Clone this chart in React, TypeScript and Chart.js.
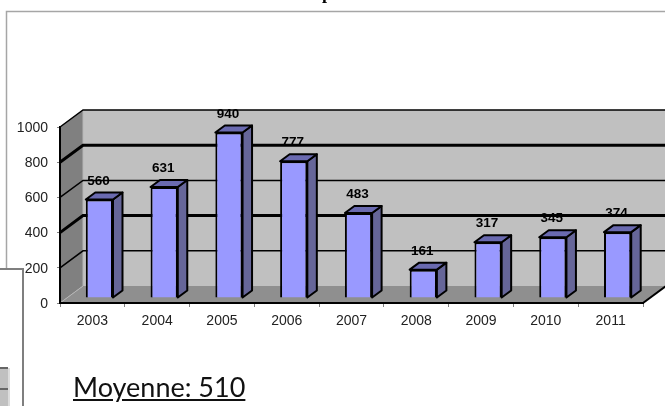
import React, { useEffect, useRef } from "react";
import { Chart, registerables } from "chart.js";

Chart.register(...registerables);

const years = ["2003", "2004", "2005", "2006", "2007", "2008", "2009", "2010", "2011"];
const counts = [560, 631, 940, 777, 483, 161, 317, 345, 374];
const gridValues = [200, 400, 600, 800, 1000];
const gridWidths = [1.5, 3, 1.5, 3, 1.5];

const WALL_DX = 23;
const WALL_DY = -17;
const BAR_DX = 7;
const BAR_DY = -5;
const SIDE_DX = 9.5;
const SIDE_DY = -7;

const scene = {
  id: "scene",
  beforeDraw(chart: any) {
    const { ctx, chartArea: a, scales } = chart;
    const W = chart.width;
    const y = scales.y;
    ctx.save();
    // outer frame
    ctx.strokeStyle = "#a6a6a6";
    ctx.lineWidth = 1.5;
    ctx.beginPath();
    ctx.moveTo(6.5, 270);
    ctx.lineTo(6.5, 11.5);
    ctx.lineTo(W, 11.5);
    ctx.stroke();
    // back wall
    const backTop = a.top + WALL_DY;
    const backBottom = a.bottom + WALL_DY;
    ctx.fillStyle = "#c0c0c0";
    ctx.fillRect(a.left + WALL_DX, backTop, W - a.left - WALL_DX, a.bottom - a.top);
    // left wall
    ctx.fillStyle = "#808080";
    ctx.beginPath();
    ctx.moveTo(a.left, a.top);
    ctx.lineTo(a.left + WALL_DX, backTop);
    ctx.lineTo(a.left + WALL_DX, backBottom);
    ctx.lineTo(a.left, a.bottom);
    ctx.closePath();
    ctx.fill();
    // floor
    ctx.fillStyle = "#8f8f8f";
    ctx.beginPath();
    ctx.moveTo(a.left, a.bottom);
    ctx.lineTo(a.left + WALL_DX, backBottom);
    ctx.lineTo(a.right + WALL_DX, backBottom);
    ctx.lineTo(a.right, a.bottom);
    ctx.closePath();
    ctx.fill();
    // wall edge between wall and floor
    ctx.strokeStyle = "#b5b5b5";
    ctx.lineWidth = 1;
    ctx.beginPath();
    ctx.moveTo(a.left, a.bottom);
    ctx.lineTo(a.left + WALL_DX, backBottom);
    ctx.lineTo(a.left + WALL_DX, backTop);
    ctx.stroke();
    // floor right edge
    ctx.strokeStyle = "#000";
    ctx.lineWidth = 2;
    ctx.beginPath();
    ctx.moveTo(a.right, a.bottom);
    ctx.lineTo(a.right + WALL_DX, backBottom);
    ctx.stroke();
    // grid lines, wrapping from the side wall to the back wall
    gridValues.forEach((v, i) => {
      const py = y.getPixelForValue(v);
      ctx.lineWidth = gridWidths[i];
      ctx.beginPath();
      ctx.moveTo(a.left, py);
      ctx.lineTo(a.left + WALL_DX, py + WALL_DY);
      ctx.lineTo(W, py + WALL_DY);
      ctx.stroke();
    });
    ctx.restore();
  },
  beforeDatasetDraw(chart: any) {
    const { ctx } = chart;
    ctx.save();
    ctx.translate(BAR_DX, BAR_DY);
    const bars = chart.getDatasetMeta(0).data;
    ctx.strokeStyle = "#000";
    ctx.lineWidth = 2;
    ctx.lineJoin = "round";
    bars.forEach((b: any) => {
      const l = b.x - b.width / 2;
      const r = b.x + b.width / 2;
      ctx.fillStyle = "#666699";
      ctx.beginPath();
      ctx.moveTo(r, b.base);
      ctx.lineTo(r + SIDE_DX, b.base + SIDE_DY);
      ctx.lineTo(r + SIDE_DX, b.y + SIDE_DY);
      ctx.lineTo(r, b.y);
      ctx.closePath();
      ctx.fill();
      ctx.stroke();
      ctx.fillStyle = "#6a6ab0";
      ctx.beginPath();
      ctx.moveTo(l, b.y);
      ctx.lineTo(l + SIDE_DX, b.y + SIDE_DY);
      ctx.lineTo(r + SIDE_DX, b.y + SIDE_DY);
      ctx.lineTo(r, b.y);
      ctx.closePath();
      ctx.fill();
      ctx.stroke();
    });
  },
  afterDatasetDraw(chart: any) {
    chart.ctx.restore();
  },
  afterDraw(chart: any) {
    const { ctx } = chart;
    const bars = chart.getDatasetMeta(0).data;
    ctx.save();
    // value labels
    ctx.fillStyle = "#000";
    ctx.font = "bold 13.5px 'Liberation Sans'";
    ctx.textAlign = "center";
    ctx.textBaseline = "middle";
    bars.forEach((b: any, i: number) => {
      ctx.fillText(String(counts[i]), b.x + BAR_DX - 1, b.y + BAR_DY - 18.5);
    });
    // overlapping panel, lower left
    ctx.fillStyle = "#fff";
    ctx.fillRect(0, 269, 23, chart.height - 269);
    ctx.strokeStyle = "#7f7f7f";
    ctx.lineWidth = 2;
    ctx.beginPath();
    ctx.moveTo(0, 269);
    ctx.lineTo(23, 269);
    ctx.lineTo(23, chart.height);
    ctx.stroke();
    // table fragment inside that panel
    ctx.fillStyle = "#c0c0c0";
    ctx.fillRect(0, 368, 8, chart.height - 368);
    ctx.fillStyle = "#dcdcdc";
    ctx.fillRect(8, 368, 2, chart.height - 368);
    ctx.fillStyle = "#666";
    ctx.fillRect(0, 367, 8, 2);
    ctx.fillRect(0, 388, 8, 2);
    // clipped heading
    ctx.fillStyle = "#000";
    ctx.font = "bold 18px 'Liberation Serif'";
    ctx.textAlign = "left";
    ctx.textBaseline = "alphabetic";
    ctx.fillText("p", 322, -1);
    ctx.restore();
  },
};

export default function App() {
  const ref = useRef<HTMLCanvasElement>(null);
  useEffect(() => {
    const tickFont = { family: "'Liberation Sans'", size: 14 };
    const chart = new Chart(ref.current as HTMLCanvasElement, {
      type: "bar",
      data: {
        labels: years,
        datasets: [
          {
            data: counts,
            backgroundColor: "#9999ff",
            borderColor: "#000",
            borderWidth: 2,
            barPercentage: 0.42,
            categoryPercentage: 1,
            clip: false,
          } as any,
        ],
      },
      options: {
        responsive: false,
        animation: false,
        layout: { padding: { left: 0, right: 22, top: 127, bottom: 63 } },
        plugins: { legend: { display: false }, title: { display: false }, tooltip: { enabled: false } },
        scales: {
          x: {
            afterFit: (s: any) => { s.height = 40; },
            grid: { drawOnChartArea: false, drawTicks: true, tickLength: 4, tickColor: "#808080" },
            border: { color: "#000", width: 2 },
            ticks: { font: tickFont, color: "#222", padding: 6, maxRotation: 0 },
          },
          y: {
            min: 0,
            max: 1000,
            afterFit: (s: any) => { s.width = 60; },
            grid: { drawOnChartArea: false, drawTicks: true, tickLength: 3, tickColor: "#808080" },
            border: { color: "#000", width: 2 },
            ticks: { font: tickFont, color: "#222", padding: 9, stepSize: 200, labelOffset: 1, callback: (v: any) => String(v) },
          },
        },
      },
      plugins: [scene as any],
    });
    return () => chart.destroy();
  }, []);

  return (
    <div style={{ position: "absolute", left: 0, top: 0, width: 665, height: 406, overflow: "hidden", background: "#fff" }}>
      <canvas ref={ref} width={665} height={406} style={{ display: "block" }} />
      <span
        style={{
          position: "absolute",
          left: 73,
          top: 371,
          fontFamily: "Lato, 'Noto Sans', sans-serif",
          fontSize: 27,
          lineHeight: "32px",
          color: "#111",
          textDecoration: "underline",
          whiteSpace: "nowrap",
        }}
      >
        Moyenne: 510
      </span>
    </div>
  );
}
